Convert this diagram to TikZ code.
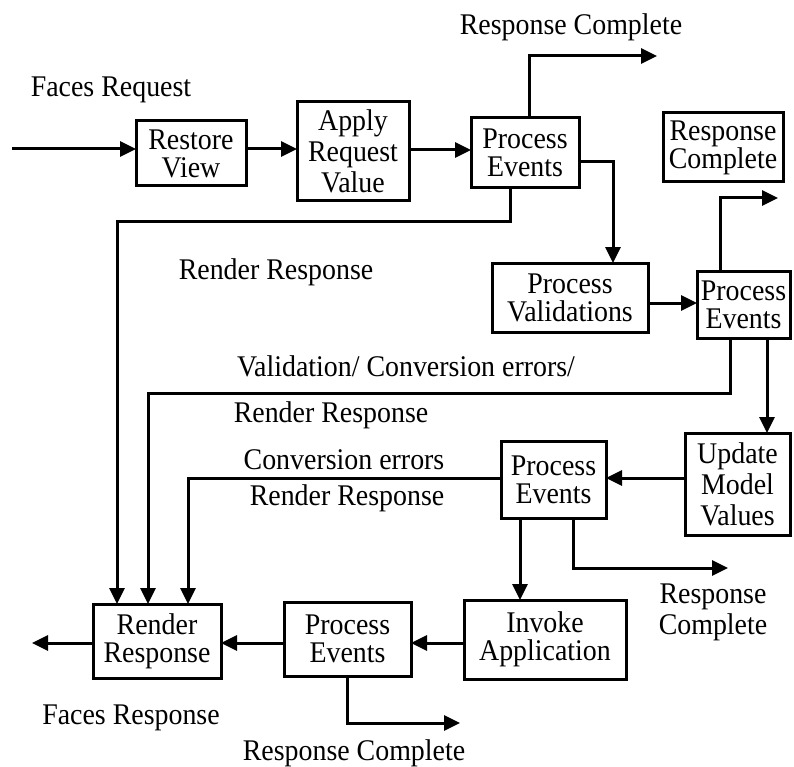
\documentclass[tikz,border=0pt]{standalone}
\usepackage{fontspec}
\setmainfont{Liberation Serif}[FakeStretch=0.93]
\usetikzlibrary{arrows.meta}
\begin{document}
\begin{tikzpicture}[x=1pt,y=-1pt,
  box/.style={draw,line width=3pt,inner sep=0pt,outer sep=0pt,align=center,
    font=\fontsize{30}{28}\selectfont},
  box3/.style={box,font=\fontsize{30}{31}\selectfont},
  lbl/.style={inner sep=0pt,align=center,font=\fontsize{30}{31}\selectfont},
  arr/.style={line width=3pt,-{Triangle[length=16pt,width=15pt]}}]
\useasboundingbox (0,0) rectangle (794,767);
% boxes
\node[box,minimum width=110pt,minimum height=65pt] (rv) at (191,153.5) {Restore\\View};
\node[box3,minimum width=112pt,minimum height=99pt] (arv) at (353,151.5) {Apply\\Request\\Value};
\node[box,minimum width=108pt,minimum height=70pt] (pe1) at (525,153) {Process\\Events};
\node[box,minimum width=120pt,minimum height=69pt] (rcb) at (723,147.5) {Response\\Complete};
\node[box,minimum width=156pt,minimum height=69pt] (pv) at (570,297.5) {Process\\Validations};
\node[box,minimum width=93pt,minimum height=67pt] (pe2) at (743.5,304.5) {Process\\Events};
\node[box3,minimum width=105pt,minimum height=102pt] (umv) at (737.5,484) {Update\\Model\\Values};
\node[box,minimum width=105pt,minimum height=77pt] (pe3) at (553.5,479.5) {Process\\Events};
\node[box,minimum width=162pt,minimum height=79pt] (ia) at (545,639.5) {Invoke\\Application};
\node[box,minimum width=127pt,minimum height=74pt] (pe4) at (347.5,639) {Process\\Events};
\node[box,minimum width=128pt,minimum height=74pt] (rr) at (157,641) {Render\\Response};
% labels
\node[lbl] (l1) at (111,90) {Faces Request};
\node[lbl] (l2) at (571,27) {Response Complete};
\node[lbl] (l3) at (276,272) {Render Response};
\node[lbl] (l4) at (406,366) {Validation/ Conversion errors/};
\node[lbl] (l5) at (331,415) {Render Response};
\node[lbl] (l6) at (344,460) {Conversion errors};
\node[lbl] (l7) at (347,498) {Render Response};
\node[lbl] (l8) at (713,612) {Response\\Complete};
\node[lbl] (l9) at (131,718) {Faces Response};
\node[lbl] (l10) at (354,753) {Response Complete};
% free ends
\coordinate (inS) at (12,149);
\coordinate (rc1) at (657,56);
\coordinate (rc2) at (778,198);
\coordinate (rc3) at (728,568);
\coordinate (rc4) at (460,723);
\coordinate (outE) at (32,643);
% connectors
\draw[arr] (inS) -- (rv.west |- inS);
\draw[arr] (rv.east |- 0,149) -- (arv.west |- 0,149);
\draw[arr] (arv.east |- 0,150) -- (pe1.west |- 0,150);
\draw[arr] (pe1.north -| 529,0) |- (rc1);
\draw[arr] (pe1.east |- 0,162) -| (pv.north -| 613,0);
\draw[arr] (pe1.south -| 510,0) -- (510,222) -| (rr.north -| 117,0);
\draw[arr] (pv.east |- 0,303) -- (pe2.west |- 0,303);
\draw[arr] (pe2.north -| 720,0) |- (rc2);
\draw[arr] (pe2.south -| 730,0) -- (730,393) -| (rr.north -| 148,0);
\draw[arr] (pe2.south -| 767,0) -- (umv.north -| 767,0);
\draw[arr] (umv.west |- 0,478) -- (pe3.east |- 0,478);
\draw[arr] (pe3.west |- 0,478) -| (rr.north -| 188,0);
\draw[arr] (pe3.south -| 520,0) -- (ia.north -| 520,0);
\draw[arr] (pe3.south -| 573,0) |- (rc3);
\draw[arr] (ia.west |- 0,643) -- (pe4.east |- 0,643);
\draw[arr] (pe4.west |- 0,643) -- (rr.east |- 0,643);
\draw[arr] (rr.west |- outE) -- (outE);
\draw[arr] (pe4.south -| 347,0) |- (rc4);
\end{tikzpicture}
\end{document}
